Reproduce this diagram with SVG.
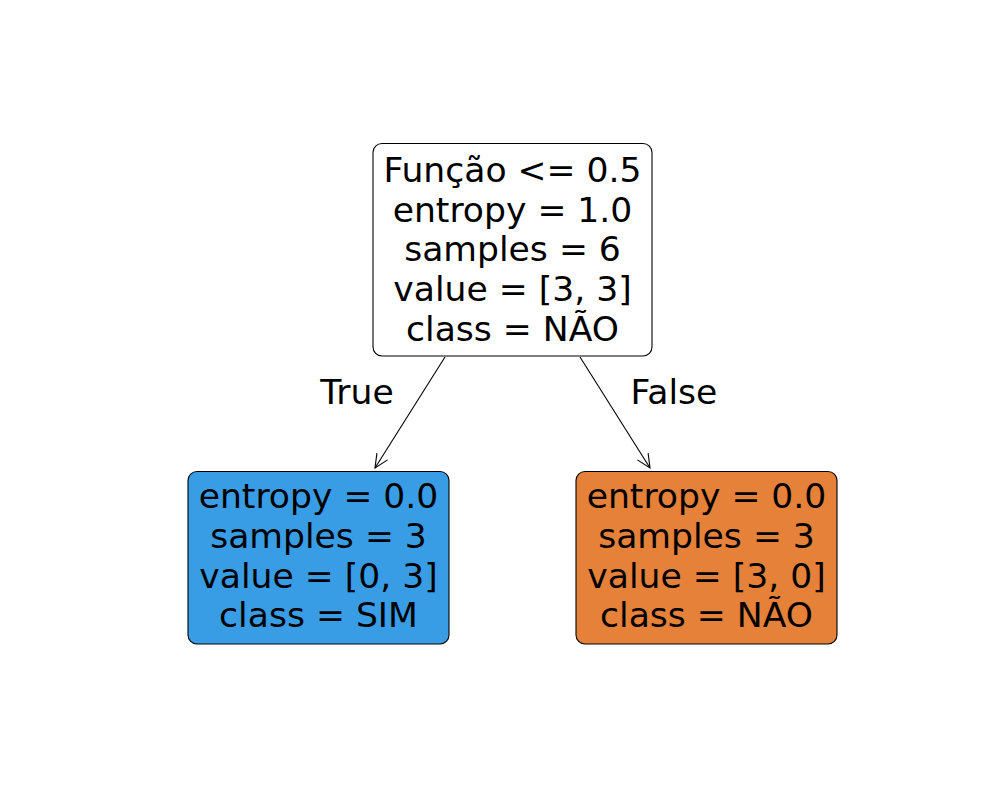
<svg xmlns="http://www.w3.org/2000/svg" width="1000" height="800" viewBox="0 0 1000 800">
<style>
text{font-family:"DejaVu Sans",sans-serif;font-size:34.6px;fill:#000;text-anchor:middle}
.box{stroke:#000;stroke-width:1.1}
.edge{stroke:#000;stroke-width:1.1;fill:none}
</style>
<rect width="1000" height="800" fill="#fff"/>
<g id="connectors">
<line class="edge" x1="445" y1="357" x2="375" y2="468"/>
<polyline class="edge" points="376.9,453.1 375,468 387.6,459.9"/>
<line class="edge" x1="580" y1="357" x2="650" y2="468"/>
<polyline class="edge" points="637.4,459.9 650,468 648.1,453.1"/>
<text x="357" y="404">True</text>
<text x="674" y="404">False</text>
</g>
<g id="root">
<rect class="box" x="373" y="143.5" width="279" height="212.5" rx="9" fill="#ffffff"/>
<text x="512.5" y="181.7">Função &lt;= 0.5</text>
<text x="512.5" y="221.7">entropy = 1.0</text>
<text x="512.5" y="261.2">samples = 6</text>
<text x="512.5" y="300.7">value = [3, 3]</text>
<text x="512.5" y="340.5">class = NÃO</text>
</g>
<g id="left">
<rect class="box" x="188" y="471.5" width="261" height="172.5" rx="9" fill="#399de5"/>
<text x="318.5" y="508.3">entropy = 0.0</text>
<text x="318.5" y="548">samples = 3</text>
<text x="318.5" y="587.7">value = [0, 3]</text>
<text x="318.5" y="627.3">class = SIM</text>
</g>
<g id="right">
<rect class="box" x="576" y="471.5" width="261" height="172.5" rx="9" fill="#e58139"/>
<text x="706.5" y="508.3">entropy = 0.0</text>
<text x="706.5" y="548">samples = 3</text>
<text x="706.5" y="587.7">value = [3, 0]</text>
<text x="706.5" y="627.3">class = NÃO</text>
</g>
</svg>
